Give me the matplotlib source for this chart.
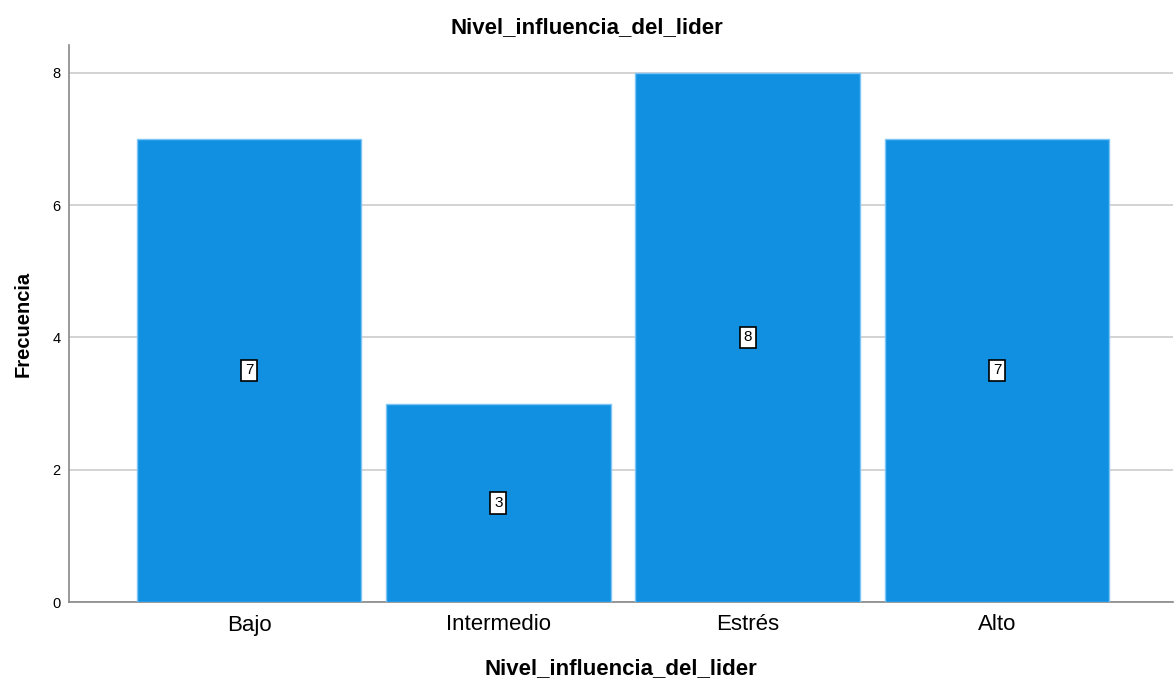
import matplotlib
matplotlib.use("Agg")
import matplotlib.pyplot as plt

categories = ["Bajo", "Intermedio", "Estrés", "Alto"]
values = [7, 3, 8, 7]
yticks = [0, 2, 4, 6, 8]

plt.rcParams['font.family'] = ['Liberation Sans', 'DejaVu Sans']

fig = plt.figure(figsize=(11.74, 6.84), dpi=100)
ax = fig.add_axes([69/1174, 82/684, (1173-69)/1174, (602-45)/684])

x = list(range(len(categories)))
ax.bar(x, values, width=0.9, color="#1190e2", edgecolor="#7cc4f5", linewidth=1.0, zorder=3)

for xi, v in zip(x, values):
    ax.text(xi, v/2, str(v), ha="center", va="center", fontsize=11, color="black", zorder=5,
            bbox=dict(boxstyle="square,pad=0.25", facecolor="white", edgecolor="black", linewidth=1.2))

ax.set_xlim(-0.722, 3.706)
ax.set_ylim(0, 8.42)
ax.set_yticks(yticks)
ax.set_xticks(x)
ax.set_xticklabels(categories, fontsize=16)
ax.tick_params(axis="y", labelsize=10.5, length=0, pad=6)
ax.tick_params(axis="x", length=0, pad=9)
ax.yaxis.grid(True, color="#cccccc", linewidth=1.2, zorder=0)
ax.set_axisbelow(True)
for s in ["top", "right"]:
    ax.spines[s].set_visible(False)
for s in ["left", "bottom"]:
    ax.spines[s].set_color("#888888")
    ax.spines[s].set_linewidth(1.2)

fig.text(0.5, 1 - 28/684, "Nivel_influencia_del_lider", fontsize=16, fontweight="bold",
         ha="center", va="center")
ax.set_xlabel("Nivel_influencia_del_lider", fontsize=16, fontweight="bold", labelpad=16)
ax.set_ylabel("Frecuencia", fontsize=14.5, fontweight="bold", labelpad=14)

fig.savefig("out.png", dpi=100)
